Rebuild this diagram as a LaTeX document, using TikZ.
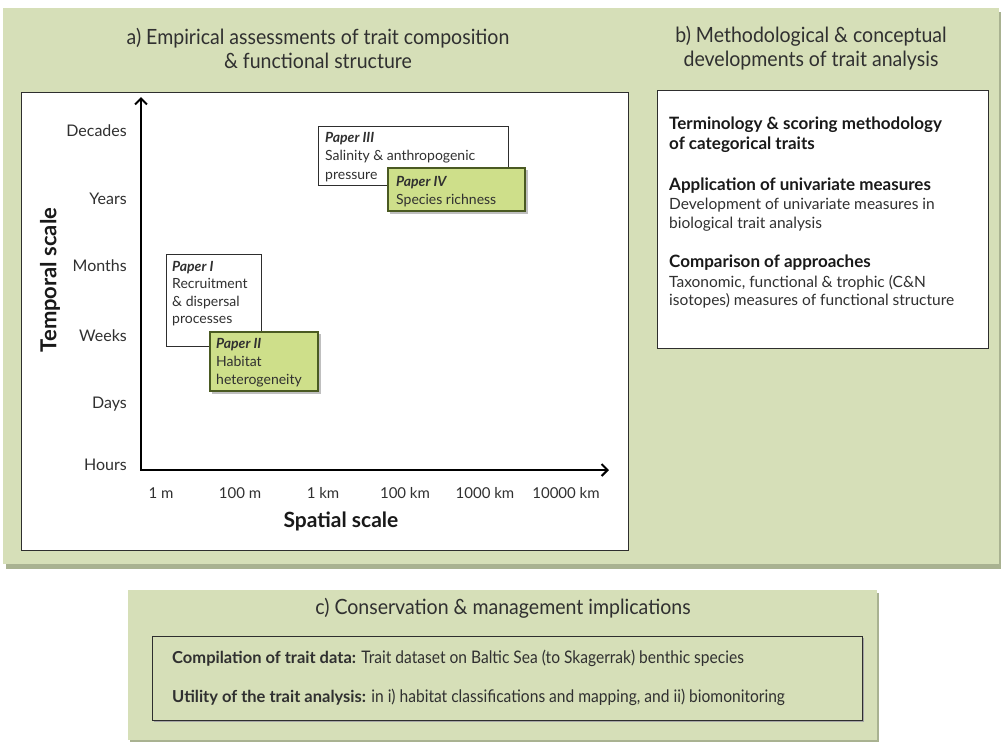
\documentclass[tikz,border=0pt]{standalone}
\usepackage{fontspec}
\setmainfont{Lato}
\newfontfamily\cond[FakeStretch=0.93]{Lato}
\newfontfamily\condb[FakeStretch=0.90]{Lato}
\usetikzlibrary{arrows.meta}
\definecolor{panel}{HTML}{D6DFB8}
\definecolor{panelsh}{HTML}{A9B291}
\definecolor{paperg}{HTML}{CEDF8A}
\definecolor{paperb}{HTML}{4A5A22}
\definecolor{txt}{HTML}{303030}
\definecolor{edge}{HTML}{2E2E2E}
\begin{document}
\begin{tikzpicture}[x=1pt,y=-1pt,
  box/.style={draw=edge,line width=1pt,anchor=north west,inner sep=0pt,outer sep=0pt},
  panelbox/.style={fill=panel,anchor=north west,inner sep=0pt,outer sep=0pt},
  whitepaper/.style={box,fill=white,line width=0.9pt},
  greenpaper/.style={box,fill=paperg,draw=paperb,line width=1.4pt},
  papertext/.style={anchor=north west,align=left,inner sep=0pt,text=txt,font=\fontsize{14}{17.5}\selectfont},
  ylab/.style={anchor=east,inner sep=0pt,text=txt,font=\fontsize{16}{18}\selectfont},
  xlab/.style={anchor=center,inner sep=0pt,text=txt,font=\fontsize{15}{17}\selectfont},
  title/.style={align=center,inner sep=0pt,text=txt,font=\cond\fontsize{21}{24}\selectfont},
  head/.style={anchor=north west,align=left,inner sep=0pt,text=black!90,font=\bfseries\fontsize{17}{20}\selectfont},
  body/.style={anchor=north west,align=left,inner sep=0pt,text=txt,font=\fontsize{15.5}{18.5}\selectfont},
  ctext/.style={anchor=west,inner sep=0pt,text=txt,font=\condb\fontsize{17.3}{20}\selectfont},
  axis/.style={line width=2pt,-{Straight Barb[length=6pt,width=12pt,line width=2pt]}}
]
\useasboundingbox[fill=white] (0,0) rectangle (1002,742);

% ---------- top panel ----------
\fill[panelsh] (6,12) rectangle (1001,569);
\node[panelbox,minimum width=996pt,minimum height=556pt] (top) at (3,8) {};

\node[title] (ta) at (318,48) {a) Empirical assessments of trait composition\\\& functional structure};
\node[title] (tb) at (811,48) {b) Methodological \& conceptual\\developments of trait analysis};

% panel a white box
\node[box,fill=white,minimum width=607pt,minimum height=458pt] (boxa) at (21,92) {};
% panel b white box
\node[box,fill=white,minimum width=331pt,minimum height=258pt] (boxb) at (657,90) {};

% axes
\coordinate (o) at (141,470);
\coordinate (ytop) at (141,97);
\coordinate (xend) at (609,470);
\draw[axis] (o) -- (ytop);
\draw[axis] ([xshift=-1pt]o) -- (xend);

% y labels
\node[ylab] (ydec) at (127,131) {Decades};
\node[ylab] (yyr) at (127,199) {Years};
\node[ylab] (ymo) at (127,266) {Months};
\node[ylab] (ywk) at (127,336) {Weeks};
\node[ylab] (yda) at (127,404) {Days};
\node[ylab] (yho) at (127,465) {Hours};

% x labels
\node[xlab] (x1) at (161,493) {1 m};
\node[xlab] (x2) at (240,493) {100 m};
\node[xlab] (x3) at (323,493) {1 km};
\node[xlab] (x4) at (405,493) {100 km};
\node[xlab] (x5) at (485,493) {1000 km};
\node[xlab] (x6) at (566,493) {10000 km};

\node[inner sep=0pt,text=black!90,font=\bfseries\fontsize{21}{23}\selectfont] (xt) at (341,521) {Spatial scale};
\node[inner sep=0pt,text=black!90,rotate=90,font=\bfseries\fontsize{22}{24}\selectfont] (yt) at (50,280) {Temporal scale};

% papers
\node[whitepaper,minimum width=95pt,minimum height=92pt] (p1box) at (166,254) {};
\node[papertext] (p1) at (172,261) {\textbf{\textit{Paper I}}\\Recruitment\\\& dispersal\\processes};

\fill[black!25] (212,334) rectangle (321,394);
\node[greenpaper,minimum width=108pt,minimum height=59pt] (p2box) at (210,332) {};
\node[papertext,font=\fontsize{14}{18}\selectfont] (p2) at (216,338) {\textbf{\textit{Paper II}}\\Habitat\\heterogeneity};

\node[whitepaper,minimum width=190pt,minimum height=59pt] (p3box) at (318,126) {};
\node[papertext,font=\fontsize{14}{18.5}\selectfont] (p3) at (325,132) {\textbf{\textit{Paper III}}\\Salinity \& anthropogenic\\pressure};

\fill[black!25] (390,170) rectangle (528,214);
\node[greenpaper,minimum width=137pt,minimum height=43pt] (p4box) at (388,168) {};
\node[papertext,font=\fontsize{14}{18}\selectfont] (p4) at (396,176) {\textbf{\textit{Paper IV}}\\Species richness};

% panel b text
\node[head] (h1) at (669,117) {Terminology \& scoring methodology\\of categorical traits};
\node[head] (h2) at (669,178) {Application of univariate measures};
\node[body] (b2) at (669,198) {Development of univariate measures in\\biological trait analysis};
\node[head] (h3) at (669,255) {Comparison of approaches};
\node[body] (b3) at (669,275) {Taxonomic, functional \& trophic (C\&N\\isotopes) measures of functional structure};

% ---------- bottom panel ----------
\fill[panelsh] (130,593) rectangle (879,742);
\node[panelbox,minimum width=749pt,minimum height=150pt] (bot) at (128,590) {};
\node[title] (tc) at (503,608) {c) Conservation \& management implications};
\fill[black!35] (154,638) rectangle (864,722);
\node[box,fill=panel,minimum width=710pt,minimum height=84pt] (boxc) at (152,636) {};
\node[ctext] (c1) at (172,658)
  {{\fontspec{Lato}\bfseries\fontsize{16.5}{20}\selectfont Compilation of trait data:} Trait dataset on Baltic Sea (to Skagerrak) benthic species};
\node[ctext] (c2) at (172,697)
  {{\fontspec{Lato}\bfseries\fontsize{16.5}{20}\selectfont Utility of the trait analysis:} in i) habitat classifications and mapping, and ii) biomonitoring};
\end{tikzpicture}
\end{document}
